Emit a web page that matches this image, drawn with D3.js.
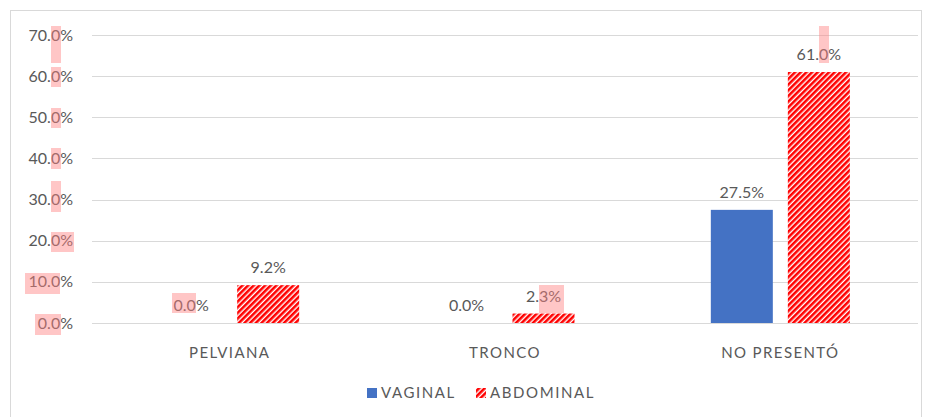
<!DOCTYPE html>
<html lang="es">
<head>
<meta charset="UTF-8">
<title>Presentación por vía</title>
<script src="https://d3js.org/d3.v7.min.js"></script>
<style>
  body { margin: 0; background: #fff; }
  text { font-family: Lato, "Open Sans", sans-serif; fill: #595959; }
  .grid line { stroke: #d9d9d9; stroke-width: 1; }
</style>
</head>
<body>
<svg width="927" height="417"></svg>
<script>
  const categories = ["PELVIANA", "TRONCO", "NO PRESENTÓ"];
  const series = ["VAGINAL", "ABDOMINAL"];
  const vaginal = [0.0, 0.0, 27.5];
  const abdominal = [9.2, 2.3, 61.0];
  const yTicks = [0, 10, 20, 30, 40, 50, 60, 70];

  // pink highlight boxes that sit over some of the texts in the picture
  const marksHi = [
    [51, 26, 10, 37], [51, 67, 10, 20], [51, 108, 10, 20], [51, 148, 10, 21],
    [51, 181, 10, 31], [51, 232, 23, 20], [25, 273, 35, 21], [35, 314, 26, 21],
    [172, 293, 24, 20], [539, 285, 25, 28], [819, 26, 10, 37]
  ];

  const svg = d3.select("svg");
  const plotL = 92, plotR = 918, plotT = 35, plotB = 323;

  svg.append("rect")
    .attr("x", 10.5).attr("y", 10.5).attr("width", 911).attr("height", 420)
    .attr("fill", "none").attr("stroke", "#d9d9d9");

  const defs = svg.append("defs");
  const pat = defs.append("pattern")
    .attr("id", "hatch").attr("patternUnits", "userSpaceOnUse")
    .attr("width", 4).attr("height", 4)
    .attr("patternTransform", "rotate(45)");
  pat.append("rect").attr("width", 4).attr("height", 4).attr("fill", "#fff");
  pat.append("rect").attr("width", 2.6).attr("height", 4).attr("fill", "#ff0000");

  const x = d3.scaleBand().domain(categories).range([plotL, plotR]);
  const xs = d3.scaleBand().domain(series).range([0, x.bandwidth()]).paddingInner(0.195).paddingOuter(0.885);
  const y = d3.scaleLinear().domain([0, 70]).range([plotB, plotT]);

  svg.append("g").attr("class", "grid")
    .selectAll("line").data(yTicks).join("line")
    .attr("x1", plotL).attr("x2", plotR)
    .attr("y1", d => Math.round(y(d)) + 0.5).attr("y2", d => Math.round(y(d)) + 0.5);

  svg.append("g").selectAll("text").data(yTicks).join("text")
    .attr("x", 73).attr("y", d => y(d)).attr("dy", "0.35em")
    .attr("text-anchor", "end").style("font-size", "16px")
    .text(d => d.toFixed(1) + "%");

  const colors = { VAGINAL: "#4472c4", ABDOMINAL: "url(#hatch)" };
  const rows = categories.flatMap((c, i) => [
    { cat: c, s: "VAGINAL", v: vaginal[i] },
    { cat: c, s: "ABDOMINAL", v: abdominal[i] }
  ]);

  svg.append("g").selectAll("rect").data(rows).join("rect")
    .attr("x", d => x(d.cat) + xs(d.s))
    .attr("y", d => y(d.v))
    .attr("width", xs.bandwidth())
    .attr("height", d => y(0) - y(d.v))
    .attr("fill", d => colors[d.s]);

  svg.append("g").selectAll("text").data(rows).join("text")
    .attr("x", d => x(d.cat) + xs(d.s) + xs.bandwidth() / 2)
    .attr("y", d => y(d.v) - 12)
    .attr("text-anchor", "middle").style("font-size", "16px")
    .text(d => d.v.toFixed(1) + "%");

  svg.append("g").selectAll("text").data(categories).join("text")
    .attr("x", d => x(d) + x.bandwidth() / 2).attr("y", 358)
    .attr("text-anchor", "middle").style("font-size", "15px").style("letter-spacing", "1.4px")
    .text(d => d);

  const leg = svg.append("g");
  const legX = [367, 476];
  series.forEach((s, i) => {
    leg.append("rect").attr("x", legX[i]).attr("y", 388).attr("width", 10).attr("height", 10)
      .attr("fill", colors[s]);
    leg.append("text").attr("x", legX[i] + 14).attr("y", 393).attr("dy", "0.35em")
      .style("font-size", "15px").style("letter-spacing", "1.6px").text(s);
  });

  svg.append("g").selectAll("rect").data(marksHi).join("rect")
    .attr("x", d => d[0]).attr("y", d => d[1]).attr("width", d => d[2]).attr("height", d => d[3])
    .attr("fill", "#ff8080").attr("opacity", 0.45);
</script>
</body>
</html>
